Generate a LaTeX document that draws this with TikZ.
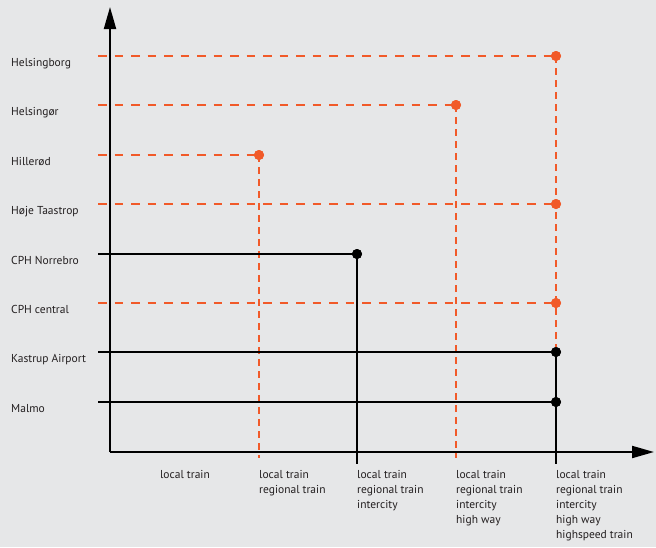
\documentclass[tikz,border=0pt]{standalone}
\usepackage{fontspec}
\setmainfont{PT Sans}
\usetikzlibrary{arrows.meta}
\definecolor{bg}{HTML}{E6E7E8}
\definecolor{org}{HTML}{F15A29}
\definecolor{ink}{HTML}{231F20}
\begin{document}
\begin{tikzpicture}[x=1pt,y=-1pt,
  axis/.style={line width=2pt,draw=black},
  orh/.style={draw=org,line width=2.6pt,dash pattern=on 8.5pt off 8pt},
  orv/.style={draw=org,line width=1.4pt,dash pattern=on 7pt off 5pt},
  blk/.style={draw=black,line width=1.3pt},
  odot/.style={circle,fill=org,inner sep=0pt,minimum size=10pt},
  bdot/.style={circle,fill=black,inner sep=0pt,minimum size=10pt},
  city/.style={anchor=base west,font=\fontsize{11.5}{13}\selectfont,text=ink,inner sep=0pt},
  mode/.style={anchor=north west,align=left,font=\fontsize{11.5}{15}\selectfont,text=ink,inner sep=0pt}]
\fill[bg] (0,0) rectangle (656,547);
\useasboundingbox (0,0) rectangle (656,547);
% axes
\coordinate (O) at (110,452);
\coordinate (ytip) at (110,7);
\coordinate (xtip) at (654,452);
\draw[axis,-{Triangle[length=22pt,width=12pt]}] (O) -- (ytip);
\draw[axis,-{Triangle[length=22pt,width=12pt]}] (O) -- (xtip);
% row starts
\coordinate (r1) at (98,56);
\coordinate (r2) at (98,105);
\coordinate (r3) at (98,155);
\coordinate (r4) at (98,204);
\coordinate (r5) at (98,254);
\coordinate (r6) at (98,303);
\coordinate (r7) at (98,352);
\coordinate (r8) at (98,402);
% column ends below axis
\coordinate (c1) at (259,458);
\coordinate (c2) at (357,464);
\coordinate (c3) at (456,458);
\coordinate (c4) at (556,464);
% dots
\node[odot] (d1) at (556,56) {};
\node[odot] (d2) at (456,105) {};
\node[odot] (d3) at (259,155) {};
\node[odot] (d4) at (556,204) {};
\node[bdot] (d5) at (357,254) {};
\node[odot] (d6) at (556,303) {};
\node[bdot] (d7) at (556,352) {};
\node[bdot] (d8) at (556,402) {};
% verticals
\draw[orv] (d1.center) -- (d7.center);
\draw[orv] (d2.center) -- (c3);
\draw[orv] (d3.center) -- (c1);
\draw[blk] (d5.center) -- (c2);
\draw[blk] (d7.center) -- (c4);
% horizontals
\draw[orh] (r1) -- (d1.center);
\draw[orh] (r2) -- (d2.center);
\draw[orh] (r3) -- (d3.center);
\draw[orh] (r4) -- (d4.center);
\draw[blk] (r5) -- (d5.center);
\draw[orh] (r6) -- (d6.center);
\draw[blk] (r7) -- (d7.center);
\draw[blk] (r8) -- (d8.center);
% redraw dots on top
\node[odot] at (d1) {};
\node[odot] at (d2) {};
\node[odot] at (d3) {};
\node[odot] at (d4) {};
\node[bdot] at (d5) {};
\node[odot] at (d6) {};
\node[bdot] at (d7) {};
\node[bdot] at (d8) {};
% city labels
\node[city] (l1) at (11,66) {Helsingborg};
\node[city] (l2) at (11,115) {Helsingør};
\node[city] (l3) at (11,165) {Hillerød};
\node[city] (l4) at (11,214) {Høje Taastrop};
\node[city] (l5) at (11,264) {CPH Norrebro};
\node[city] (l6) at (11,313) {CPH central};
\node[city] (l7) at (11,362) {Kastrup Airport};
\node[city] (l8) at (11,412) {Malmo};
% mode labels
\node[mode,anchor=north] (m0) at (185,470) {local train};
\node[mode] (m1) at (259,470) {local train\\regional train};
\node[mode] (m2) at (357,470) {local train\\regional train\\intercity};
\node[mode] (m3) at (456,470) {local train\\regional train\\intercity\\high way};
\node[mode] (m4) at (556,470) {local train\\regional train\\intercity\\high way\\highspeed train};
\end{tikzpicture}
\end{document}
